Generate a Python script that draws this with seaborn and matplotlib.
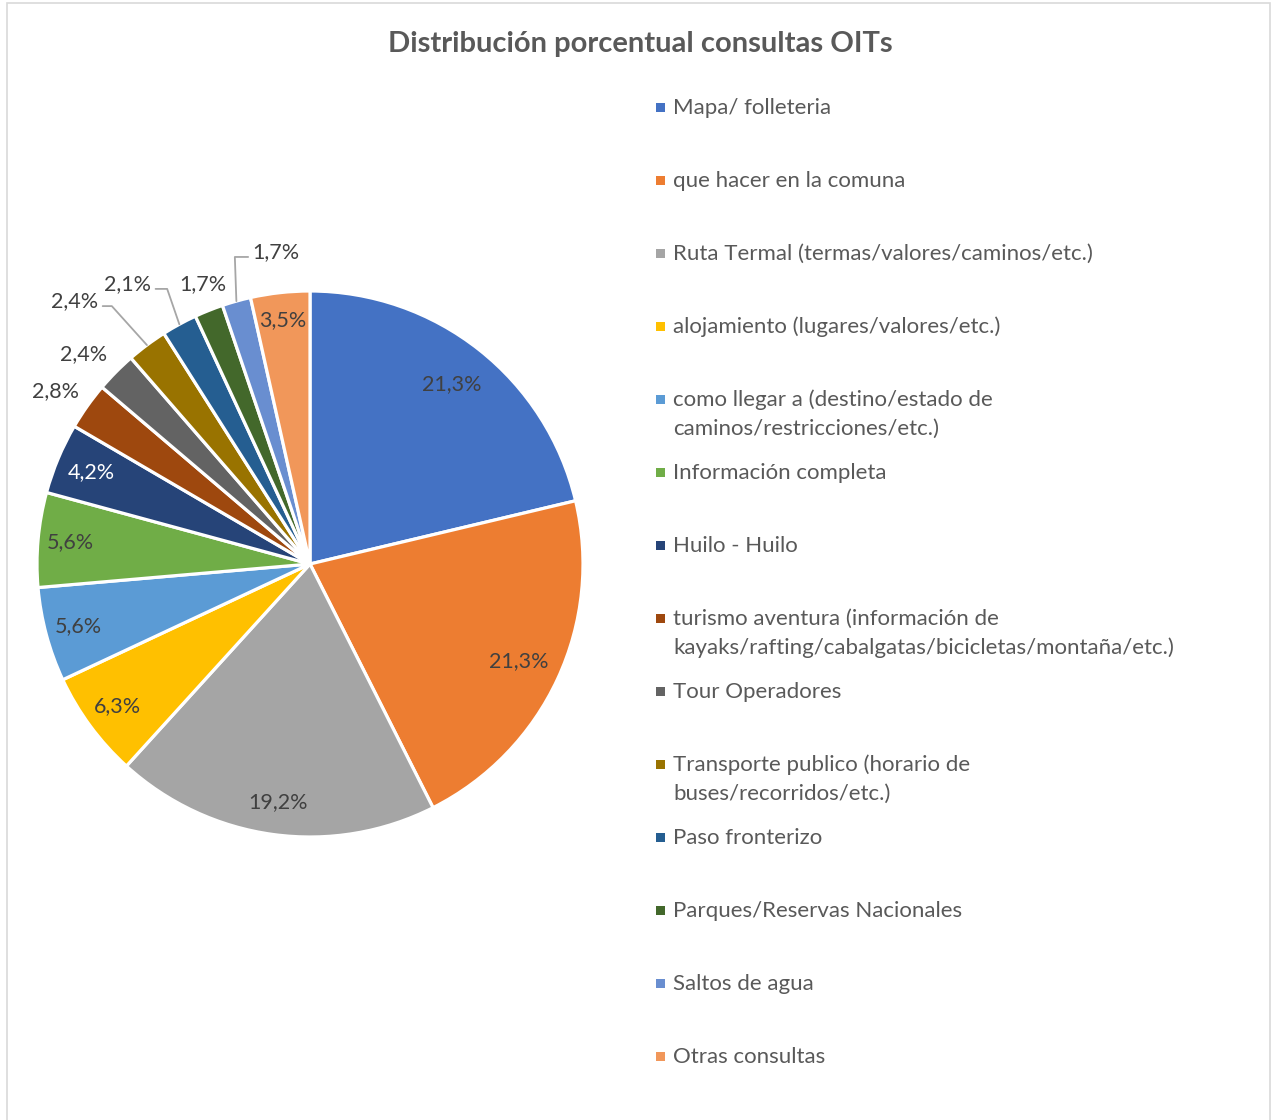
import numpy as np
import matplotlib
matplotlib.use("Agg")
import matplotlib.pyplot as plt
import seaborn as sns

# Data
categorias = [
    "Mapa/ folleteria",
    "que hacer en la comuna",
    "Ruta Termal (termas/valores/caminos/etc.)",
    "alojamiento (lugares/valores/etc.)",
    "como llegar a (destino/estado de\ncaminos/restricciones/etc.)",
    "Información completa",
    "Huilo - Huilo",
    "turismo aventura (información de\nkayaks/rafting/cabalgatas/bicicletas/montaña/etc.)",
    "Tour Operadores",
    "Transporte publico (horario de\nbuses/recorridos/etc.)",
    "Paso fronterizo",
    "Parques/Reservas Nacionales",
    "Saltos de agua",
    "Otras consultas",
]
porcentajes = [21.3, 21.3, 19.2, 6.3, 5.6, 5.6, 4.2, 2.8, 2.4, 2.4, 2.1, 1.7, 1.7, 3.5]
colores = ["#4472C4", "#ED7D31", "#A5A5A5", "#FFC000", "#5B9BD5", "#70AD47", "#264478",
           "#9E480E", "#636363", "#997300", "#255E91", "#43682B", "#698ED0", "#F1975A"]

# label placement (style): distance for inner labels, explicit spot for crowded ones
dist_label = [0.84, 0.845, 0.88, 0.875, 0.88, 0.88, 0.87, None, None, None, None, None, None, 0.9]
pos_fuera = {7: (-0.934, 0.634), 8: (-0.828, 0.769), 9: (-0.861, 0.963),
             10: (-0.667, 1.026), 11: (-0.392, 1.026), 12: (-0.125, 1.143)}
guias = {9: (1.0, 132), 10: (1.0, 109), 12: (0.0, 92)}  # relpos x, angle of leader
color_label = {6: "white"}

sns.set_style("white")
plt.rcParams["font.family"] = ["Lato", "DejaVu Sans"]

W, H = 1273, 1120
fig = plt.figure(figsize=(W / 100, H / 100), dpi=100)

# light frame around the chart area
fig.add_artist(plt.Rectangle((7 / W, -0.01), 1263 / W, 1 - 3 / H + 0.01, transform=fig.transFigure,
                             fill=False, edgecolor="#D9D9D9", linewidth=1.2))

# pie axes: center at (310, 564) px, radius 273 px
R = 273
cx, cy = 310, 564
half = 300
ax = fig.add_axes([(cx - half) / W, (H - cy - half) / H, 2 * half / W, 2 * half / H])
lim = half / R
ax.axis("off")

wedges, _ = ax.pie(porcentajes, colors=colores, startangle=90, counterclock=False,
                   radius=1.0, wedgeprops=dict(edgecolor="white", linewidth=2.3))
ax.set_xlim(-lim, lim)
ax.set_ylim(-lim, lim)
ax.set_aspect("equal")

fs_pct = 15.5
for i, (w, v) in enumerate(zip(wedges, porcentajes)):
    texto = f"{v:.1f}".replace(".", ",") + "%"
    ang = np.deg2rad((w.theta1 + w.theta2) / 2)
    col = color_label.get(i, "#404040")
    if i in pos_fuera:
        tx, ty = pos_fuera[i]
        if i in guias:
            rx, angB = guias[i]
            ax.annotate(texto, xy=(np.cos(ang), np.sin(ang)), xytext=(tx, ty),
                        ha="center", va="center", fontsize=fs_pct, color=col,
                        arrowprops=dict(arrowstyle="-", color="#A6A6A6", lw=1.3,
                                        relpos=(rx, 0.25), patchA=None, shrinkA=3, shrinkB=0,
                                        connectionstyle=f"angle,angleA=0,angleB={angB},rad=0"))
        else:
            ax.text(tx, ty, texto, ha="center", va="center", fontsize=fs_pct, color=col)
    else:
        d = dist_label[i]
        ax.text(d * np.cos(ang), d * np.sin(ang), texto, ha="center", va="center",
                fontsize=fs_pct, color=col)

# title
fig.text(640 / W, 1 - 44 / H, "Distribución porcentual consultas OITs", ha="center", va="center",
         fontsize=21, fontweight="bold", color="#595959")

# legend drawn entry by entry, one slot of 73 px each
y0, paso, interlinea = 107, 73, 29
for i, (cat, col) in enumerate(zip(categorias, colores)):
    yy = y0 + i * paso
    fig.add_artist(plt.Rectangle((656 / W, 1 - (yy + 4.5) / H), 9 / W, 9 / H,
                                 transform=fig.transFigure, facecolor=col, edgecolor="none"))
    for k, linea in enumerate(cat.split("\n")):
        fig.text(673 / W, 1 - (yy + 7 + k * interlinea) / H, linea, ha="left", va="baseline",
                 fontsize=16, color="#595959")

fig.savefig("out.png", dpi=100)
